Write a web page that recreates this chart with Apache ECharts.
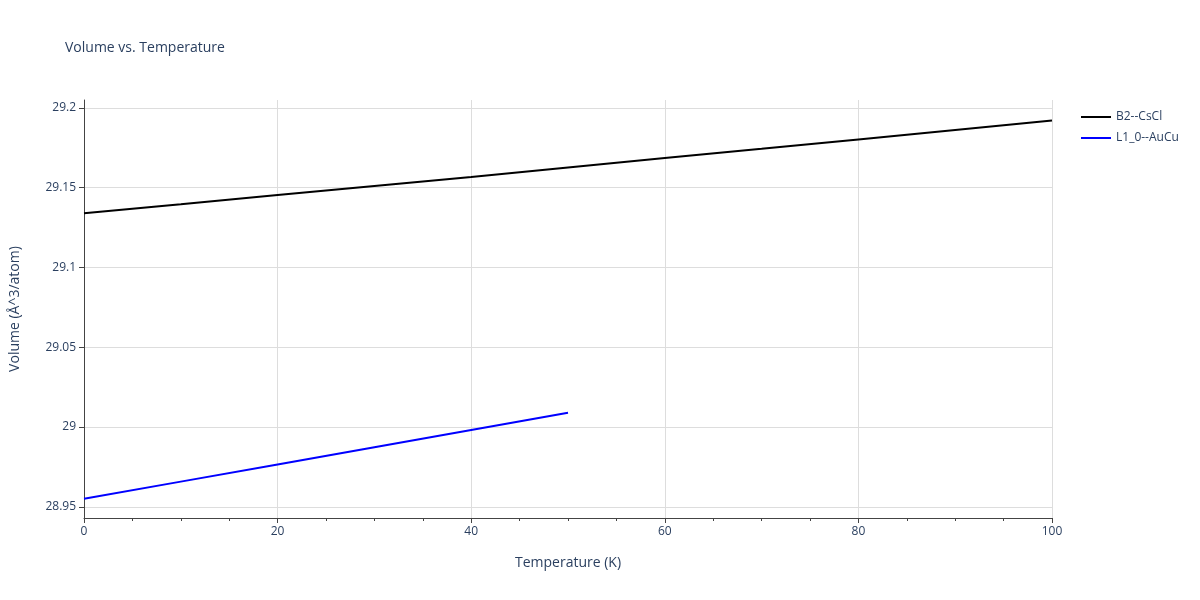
<!DOCTYPE html>
<html><head><meta charset="utf-8">
<script src="https://cdn.jsdelivr.net/npm/echarts@6/dist/echarts.min.js"></script>
<style>html,body{margin:0;padding:0}#c{width:1200px;height:600px}</style>
</head><body><div id="c"></div>
<script>
const b2T = [0,10,20,30,40,50,60,70,80,90,100];
const b2V = [29.134,29.1396,29.1454,29.1511,29.1568,29.1627,29.1686,29.1744,29.1803,29.1862,29.1922];
const l1T = [0,10,20,30,40,50];
const l1V = [28.955,28.9658,28.9766,28.9874,28.9982,29.009];
const yTicks = [28.95,29,29.05,29.1,29.15,29.2];
const yLabels = ['28.95','29','29.05','29.1','29.15','29.2'];
const txt = '#2a3f5f', font = '"Open Sans", sans-serif';
const chart = echarts.init(document.getElementById('c'));
chart.setOption({
  animation:false,
  title:{text:'Volume vs. Temperature',left:60,top:36,textStyle:{fontSize:14,fontWeight:'normal',color:txt,fontFamily:font}},
  legend:{orient:'vertical',left:1076,top:106,itemWidth:30,itemHeight:2,icon:'rect',itemGap:9,
    textStyle:{fontSize:12,color:txt,fontFamily:font},data:['B2--CsCl','L1_0--AuCu']},
  grid:{left:80,right:148,top:100,bottom:82},
  xAxis:{type:'value',min:0,max:100,interval:20,name:'Temperature (K)',nameLocation:'middle',nameGap:38,
    nameTextStyle:{fontSize:14,color:txt,fontFamily:font},
    axisLine:{show:true,onZero:false,lineStyle:{color:'#444'}},
    axisTick:{show:true,length:5,lineStyle:{color:'#444'}},
    minorTick:{show:true,splitNumber:4,length:3,lineStyle:{color:'#444'}},
    axisLabel:{fontSize:12,color:txt,fontFamily:font},
    splitLine:{lineStyle:{color:'#ddd'}}},
  yAxis:{type:'value',min:28.943,max:29.205,name:'Volume (Å^3/atom)',nameLocation:'middle',nameGap:62,
    nameTextStyle:{fontSize:14,color:txt,fontFamily:font},
    axisLine:{show:true,lineStyle:{color:'#444'}},
    axisTick:{show:true,length:5,customValues:yTicks,lineStyle:{color:'#444'}},
    axisLabel:{fontSize:12,color:txt,fontFamily:font,customValues:yTicks,
      formatter:v=>{const i=yTicks.findIndex(t=>Math.abs(t-v)<1e-6);return i>=0?yLabels[i]:'';}},
    splitLine:{show:true,lineStyle:{color:'#ddd'}}},
  series:[
    {name:'B2--CsCl',type:'line',showSymbol:false,data:b2T.map((t,i)=>[t,b2V[i]]),lineStyle:{color:'#000',width:2},itemStyle:{color:'#000'}},
    {name:'L1_0--AuCu',type:'line',showSymbol:false,data:l1T.map((t,i)=>[t,l1V[i]]),lineStyle:{color:'#0000ff',width:2},itemStyle:{color:'#0000ff'}}
  ]
});
</script></body></html>
